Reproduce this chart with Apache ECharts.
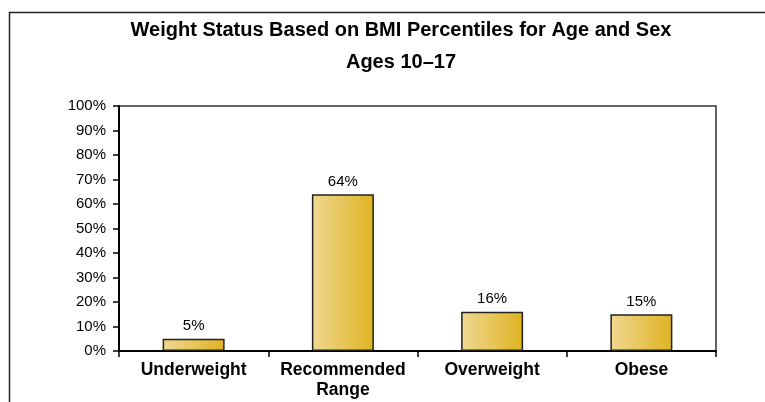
<!DOCTYPE html>
<html><head><meta charset="utf-8">
<script src="https://cdn.jsdelivr.net/npm/echarts@6/dist/echarts.min.js"></script>
<style>html,body{margin:0;padding:0;background:#fff}#c{width:765px;height:402px}</style>
</head><body><div id="c"></div>
<script>
const titleLine1 = 'Weight Status Based on BMI Percentiles for Age and Sex';
const titleLine2 = 'Ages 10–17';
const categories = ['Underweight', 'Recommended\nRange', 'Overweight', 'Obese'];
const values = [5, 64, 16, 15];
const yMin = 0, yMax = 100, yStep = 10;

const FONT = '"Liberation Sans", Arial, Helvetica, sans-serif';
const chart = echarts.init(document.getElementById('c'), null, {renderer: 'canvas'});
chart.setOption({
  animation: false,
  backgroundColor: '#fff',
  graphic: [
    {type: 'rect', left: 7, top: 10, shape: {x: 0, y: 0, width: 820, height: 420},
     style: {fill: 'none', stroke: '#222', lineWidth: 1.5}, z: 0, silent: true},
    {type: 'text', x: 401, y: 30, style: {text: titleLine1, font: 'bold 20px ' + FONT, fill: '#000', align: 'center', verticalAlign: 'middle'}},
    {type: 'text', x: 401, y: 62, style: {text: titleLine2, font: 'bold 20px ' + FONT, fill: '#000', align: 'center', verticalAlign: 'middle'}}
  ],
  grid: {left: 119, right: 49, top: 106, bottom: 51, show: true, borderColor: '#333', borderWidth: 1.5, backgroundColor: 'transparent'},
  xAxis: {
    type: 'category', data: categories,
    axisLine: {lineStyle: {color: '#000', width: 2}},
    axisTick: {show: true, length: 6, alignWithLabel: false, lineStyle: {color: '#000', width: 1.5}},
    axisLabel: {color: '#000', fontFamily: FONT, fontWeight: 'bold', fontSize: 17.5, lineHeight: 20, margin: 9, interval: 0}
  },
  yAxis: {
    type: 'value', min: yMin, max: yMax, interval: yStep,
    axisLine: {show: true, lineStyle: {color: '#000', width: 2}},
    axisTick: {show: true, length: 6, lineStyle: {color: '#000', width: 1.5}},
    splitLine: {show: false},
    axisLabel: {color: '#000', fontFamily: FONT, fontSize: 15, margin: 13, formatter: '{value}%'}
  },
  series: [{
    type: 'bar', data: values, barWidth: 62,
    itemStyle: {
      color: new echarts.graphic.LinearGradient(0, 0, 1, 0, [
        {offset: 0, color: '#EFD892'}, {offset: 1, color: '#DFB322'}]),
      borderColor: '#222', borderWidth: 1.5
    },
    label: {show: true, position: 'top', distance: 5, color: '#000', fontFamily: FONT, fontSize: 15, formatter: '{c}%'}
  }]
});
</script></body></html>
